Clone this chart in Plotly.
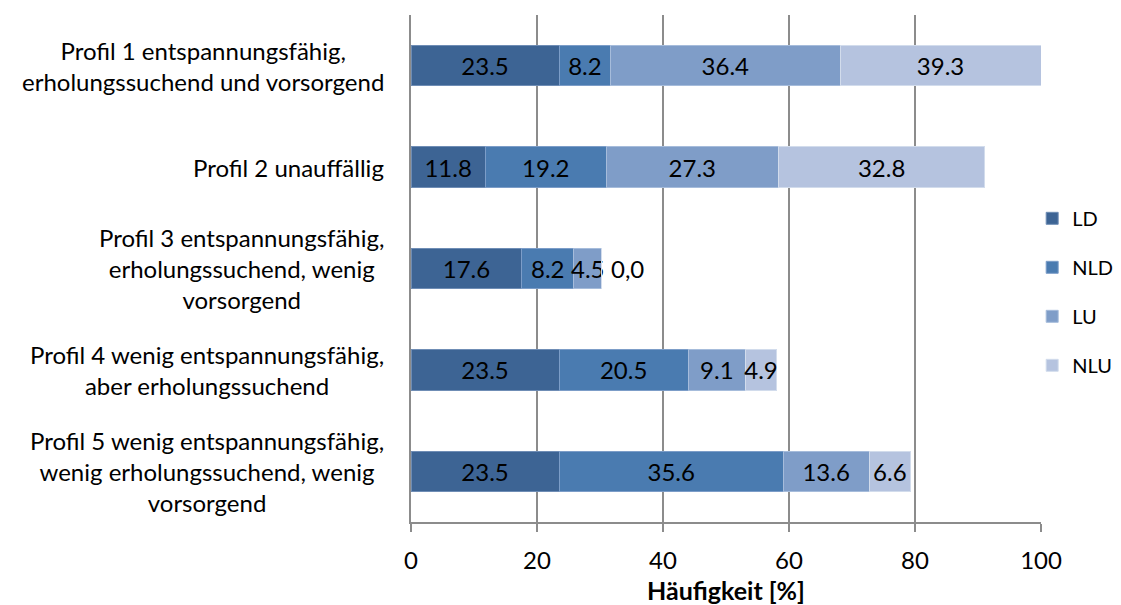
import plotly.graph_objects as go

categories = [
    "Profil 1 entspannungsfähig,<br>erholungssuchend und vorsorgend",
    "Profil 2 unauffällig",
    "Profil 3 entspannungsfähig,<br>erholungssuchend, wenig<br>vorsorgend",
    "Profil 4 wenig entspannungsfähig,<br>aber erholungssuchend",
    "Profil 5 wenig entspannungsfähig,<br>wenig erholungssuchend, wenig<br>vorsorgend",
]
series_names = ["LD", "NLD", "LU", "NLU"]
ld = [23.5, 11.8, 17.6, 23.5, 23.5]
nld = [8.2, 19.2, 8.2, 20.5, 35.6]
lu = [36.4, 27.3, 4.5, 9.1, 13.6]
nlu = [31.9, 32.8, 0.0, 4.9, 6.6]
ld_labels = ["23.5", "11.8", "17.6", "23.5", "23.5"]
nld_labels = ["8.2", "19.2", "8.2", "20.5", "35.6"]
lu_labels = ["36.4", "27.3", "4.5", "9.1", "13.6"]
nlu_labels = ["39.3", "32.8", "0,0", "4.9", "6.6"]
x_ticks = [0, 20, 40, 60, 80, 100]
x_title = "Häufigkeit [%]"

colors = ["#3D6494", "#4A7BB0", "#7F9DC8", "#B5C3DF"]
edge = ["#6F8DB5", "#7C9DC8", "#A6BCDB", "#D2DCEC"]
FONT = "Lato"
FS = 24

keys = [f"c{i}" for i in range(len(categories))]
all_series = [ld, nld, lu, nlu]
fig = go.Figure()
for name, vals, labs, col, ec in zip(series_names, all_series,
                                     [ld_labels, nld_labels, lu_labels, nlu_labels],
                                     colors, edge):
    shown = ["" if v == 0 else t for v, t in zip(vals, labs)]
    fig.add_trace(go.Bar(
        y=keys, x=vals, name=name, orientation="h",
        marker=dict(color=col, line=dict(color=ec, width=1)),
        text=shown, textposition="inside", insidetextanchor="middle",
        textangle=0,
        textfont=dict(family=FONT, size=FS, color="black"),
        constraintext="none", cliponaxis=False,
        legendgroup=name,
    ))
    # zero-valued segments: label placed just after the end of the stack
    for i, (v, t) in enumerate(zip(vals, labs)):
        if v == 0:
            end = sum(s[i] for s in all_series)
            fig.add_annotation(x=end, y=keys[i], xref="x", yref="y", text=t,
                               showarrow=False, xanchor="left", yanchor="middle",
                               xshift=7, font=dict(family=FONT, size=FS, color="black"))

for k, lab in zip(keys, categories):
    fig.add_annotation(x=0, y=k, xref="x", yref="y", text=lab, showarrow=False,
                       xanchor="right", yanchor="middle", align="center", xshift=-25,
                       font=dict(family=FONT, size=FS, color="black"))

fig.update_layout(
    width=1113, height=597,
    margin=dict(l=403, r=80, t=7, b=83, autoexpand=False),
    barmode="stack", bargap=0.6,
    plot_bgcolor="white", paper_bgcolor="white",
    font=dict(family=FONT, size=FS, color="black"),
    uniformtext=dict(minsize=FS, mode="show"),
    showlegend=True,
    legend=dict(x=0.986, xanchor="left", y=0.454, yanchor="middle",
                traceorder="grouped", tracegroupgap=20,
                font=dict(family=FONT, size=20, color="black"),
                bgcolor="rgba(0,0,0,0)"),
    xaxis=dict(range=[0, 100], tickvals=x_ticks, showgrid=True, gridcolor="#8C8C8C",
               gridwidth=1.5, zeroline=False, showline=True, linecolor="#8C8C8C",
               linewidth=1.5, ticks="outside", ticklen=8, tickcolor="#8C8C8C",
               tickwidth=1.5, ticklabelstandoff=8,
               tickfont=dict(family=FONT, size=FS, color="black"),
               title=dict(text="<b>" + x_title + "</b>", standoff=13,
                          font=dict(family=FONT, size=25, color="black"))),
    yaxis=dict(autorange="reversed", showticklabels=False, showline=True,
               linecolor="#8C8C8C", linewidth=1.5, showgrid=False, ticks=""),
)

fig.write_html("out.html")
